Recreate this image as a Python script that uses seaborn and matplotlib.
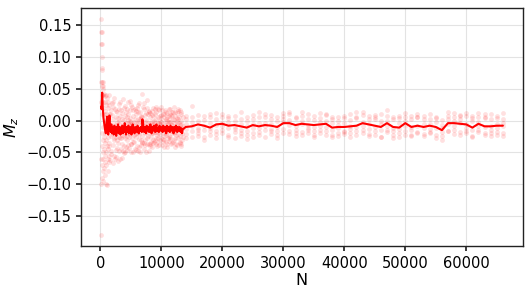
"""M_z convergence vs N - mean curve over per-run samples."""

import matplotlib

matplotlib.use("Agg")
import matplotlib.pyplot as plt
import numpy as np
import pandas as pd
import seaborn as sns

# sample sizes: fine steps first, then coarse steps
dense_n = list(range(100, 13600, 100))
sparse_n = list(range(14000, 67000, 1000))

# mean M_z per N (x 1e-3)
dense_mean = [
    22, 18, 44, 20, 5, -2, -10, -16, -20, -8, 6, -14, -22, -4, 8, -12, -18, -6, -20, -10,
    -14, -22, -8, -16, -12, -24, -10, -18, -6, -20, -14, -10, -22, -12, -16, -8, -20, -14, -18, -4,
    -16, -22, -10, -14, -18, -8, -20, -12, -16, -10, -22, -12, -6, -18, -14, -20, -10, -16, -12, -18,
    -8, -14, -20, -12, -16, -10, -14, -18, 2, -6, -14, -18, -10, -12, -20, -8, -14, -16, -10, -18,
    -12, -6, -14, -20, -10, -12, -16, -8, -14, -18, -10, -6, -16, -12, -14, -18, -8, -12, -16, -10,
    -14, -18, -8, -12, -16, -10, -14, -20, -8, -12, -16, -10, -14, -18, -8, -12, -16, -10, -14, -20,
    -10, -12, -16, -8, -14, -18, -10, -12, -16, -10, -14, -18, -12, -20, -14,
]
sparse_mean = [
    -10, -9, -6, -8, -11, -6, -5, -8, -7, -9, -11, -7, -9, -7, -8, -10, -4, -4, -7,
    -5, -6, -7, -6, -5, -11, -10, -10, -9, -8, -4, -6, -8, -10, -4, -10, -11, -4, -10,
    -8, -10, -8, -10, -15, -4, -4, -5, -6, -11, -5, -9, -9, -8, -8,
]

# individual runs per N (x 1e-3)
dense_runs = [
    # N 100 - 1500
    [160, 140, 120, -180, -100, 60, 30, -60], [140, 100, 80, -90, 55, -40, 10],
    [120, 82, 60, -70, -20, 40], [60, 50, -50, -95, 30, -10], [55, 40, -60, -30, 20, -80],
    [42, 10, -45, -75, -25], [38, -20, -55, 0, -85], [30, -35, -65, 15, -5],
    [25, -50, -100, -10, 5], [40, -30, -70, 10], [35, -102, -40, 0], [20, -60, -25, 5],
    [30, -45, -15, -80], [25, -55, -5, -35], [40, -40, 10, -65],
    # N 1600 - 4000
    [-3, 11, -62], [17, -53, -8], [-24, -47, -15], [9, -21, 27], [-12, 21, -67],
    [29, -39, 3], [-31, -6, -55], [-9, 36, -27], [19, -14, -61], [-46, -26, 15],
    [5, -57, -11], [-20, -43, -2], [14, -7, -30], [-35, 4, -64], [-1, 18, -25],
    [26, -48, -5], [-16, -60, -28], [8, 30, -18], [-27, -45, 16], [12, -22, 2],
    [-8, -36, -59], [34, -47, -6], [-40, -24, -12], [1, 20, -51], [23, -9, -28],
    # N 4100 - 8000
    [-11, 8, -49], [14, -42, -4], [-30, -18, -46], [6, 19, -24], [-20, 29, -3],
    [11, -38, 1], [-26, -9, -43], [-5, 4, 31], [17, -21, -1], [-36, -12, -50],
    [-2, 25, -37], [21, -6, -28], [-14, -34, 16], [8, -49, -10], [-33, -23, -2],
    [3, 18, -16], [-21, -44, -11], [15, -3, -46], [-9, 10, -25], [-40, 20, -19],
    [2, -14, 14], [24, -47, -4], [-18, -29, -42], [-1, 27, -21], [13, -50, 3],
    [-31, -7, -39], [5, -13, 8], [-24, -35, -3], [42, 6, -33], [-6, 22, -14],
    [18, -44, -8], [-35, -18, 28], [9, -2, -31], [-13, -39, -20], [1, 12, -49],
    [20, -10, 33], [-28, -36, -15], [-4, 10, -24], [15, -47, -7], [-19, -37, 13],
    # N 8100 - 13500
    [-8, 6, -37], [12, -40, -3], [-25, -11, -34], [-1, 9, -20], [15, -41, -7],
    [-31, -19, 20], [7, -5, -35], [-18, -33, -1], [-4, 18, -15], [10, -30, -9],
    [-27, 14, -36], [2, -18, 21], [-15, -40, -23], [19, -28, -4], [-34, 5, -19],
    [-3, 16, -38], [8, -10, 0], [-21, -31, -6], [4, 22, -27], [-12, -2, 9],
    [16, -39, -8], [-29, -14, -33], [-6, 10, -20], [11, -31, 5], [-24, -12, -42],
    [0, 17, -16], [13, -7, -22], [-33, 2, -19], [-10, 12, -36], [6, -41, 0],
    [-17, -28, -5], [3, 8, -24], [18, -32, -2], [-26, 11, -17], [-2, 19, -29],
    [9, -6, -37], [-20, -35, 14], [-7, -16, 7], [14, 2, -33], [-30, -19, -4],
    [1, -12, 21], [-14, -27, -41], [7, 13, -18], [-22, -36, -9], [-5, 4, -39],
    [12, -11, 0], [-28, -21, 15], [3, 18, -14], [-11, -3, 6], [16, -33, -7],
    [-35, -15, -24], [-1, 14, -40], [10, -5, -36], [-19, -30, -12], [5, -9, -26],
]
sparse_runs = [
    [3, -21, -13, -6, -27, 8], [23, -17, -2, -25, -9, 5], [9, -19, -11, -1, -15, -24],
    [1, -26, -14, 7, -30, -8], [5, -23, -17, -4, -12, 11], [12, -16, -7, 2, -21, -27],
    [10, -14, -3, 6, -20, -9], [-2, -22, -11, 8, -25, 4], [7, -18, -10, -1, -13, -28],
    [13, -24, -15, -5, -19, 2], [0, -29, -17, -8, -22, 6], [9, -20, -6, 3, -25, -12],
    [14, -23, -12, -3, -18, 5], [6, -15, -4, 11, -26, -9], [2, -21, -13, -6, -17, 9],
    [-1, -27, -16, 5, -22, -10], [12, -19, -2, 7, -13, 3], [10, -16, 1, 13, -21, -7],
    [4, -20, -9, 5, -24, -14], [14, -18, -5, 8, -22, 0], [3, -15, -7, 10, -20, -11],
    [7, -22, -10, 1, -26, -16], [12, -19, -8, 4, -15, -2], [9, -17, -1, 11, -23, -10],
    [2, -26, -14, -4, -23, 6], [5, -24, -12, 0, -19, -7], [4, -21, -16, 8, -18, -3],
    [11, -20, -8, 1, -25, -13], [6, -17, -10, 4, -22, 13], [14, -15, -2, 9, -20, -8],
    [8, -21, -6, 3, -24, -13], [5, -23, -10, 2, -17, 9], [10, -25, -14, -1, -26, -6],
    [16, -18, 0, 7, -14, -9], [2, -22, -11, 6, -27, -16], [4, -26, -13, -3, -20, 8],
    [12, -16, -1, 6, -22, -9], [8, -23, -10, 3, -24, -15], [6, -19, -8, 5, -18, 11],
    [3, -24, -12, 8, -21, -5], [10, -18, -6, 2, -20, -13], [6, -22, -12, 4, -27, -2],
    [1, -30, -18, -7, -24, -12], [14, -17, 2, 8, -16, -6], [12, -14, 0, 6, -21, -9],
    [9, -18, -4, 8, -23, 3], [8, -20, -6, 12, -16, -11], [4, -24, -14, -1, -26, 7],
    [12, -18, -2, 6, -14, -8], [6, -22, -10, 4, -20, 10], [10, -20, -8, 2, -24, -14],
    [8, -18, -6, 4, -22, -12], [12, -20, -8, 2, -24, -4],
]

RED = "#ff0000"

mean_df = pd.DataFrame(
    {"N": dense_n + sparse_n, "Mz": np.array(dense_mean + sparse_mean) / 1000}
)
runs_df = pd.DataFrame(
    [
        {"N": n, "Mz": v / 1000}
        for n, row in zip(dense_n + sparse_n, dense_runs + sparse_runs)
        for v in row
    ]
)

sns.set_theme(style="whitegrid")
plt.rcParams.update(
    {
        "font.family": ["DejaVu Sans"],
        "axes.edgecolor": "#222222",
        "axes.linewidth": 1.0,
        "grid.color": "#e3e3e3",
        "grid.linewidth": 0.8,
        "xtick.bottom": True,
        "ytick.left": True,
        "xtick.major.size": 3.5,
        "ytick.major.size": 3.5,
        "xtick.color": "#222222",
        "ytick.color": "#222222",
        "text.color": "black",
        "axes.labelcolor": "black",
    }
)

fig = plt.figure(figsize=(5.32, 2.97), dpi=100)
ax = fig.add_axes([0.152, 0.172, 0.831, 0.801])

sns.scatterplot(
    data=runs_df, x="N", y="Mz", color=RED, alpha=0.12, s=12, linewidth=0, ax=ax
)
sns.lineplot(data=mean_df, x="N", y="Mz", color=RED, lw=1.5, ax=ax)

ax.set_yticks([-0.15, -0.10, -0.05, 0.00, 0.05, 0.10, 0.15])
ax.set_xticks([0, 10000, 20000, 30000, 40000, 50000, 60000])
ax.tick_params(labelsize=10.5, labelcolor="black")
ax.set_xlabel("N", fontsize=11.5, labelpad=2)
ax.set_ylabel("$M_z$", fontsize=11.5)

fig.savefig("out.png", dpi=100)
